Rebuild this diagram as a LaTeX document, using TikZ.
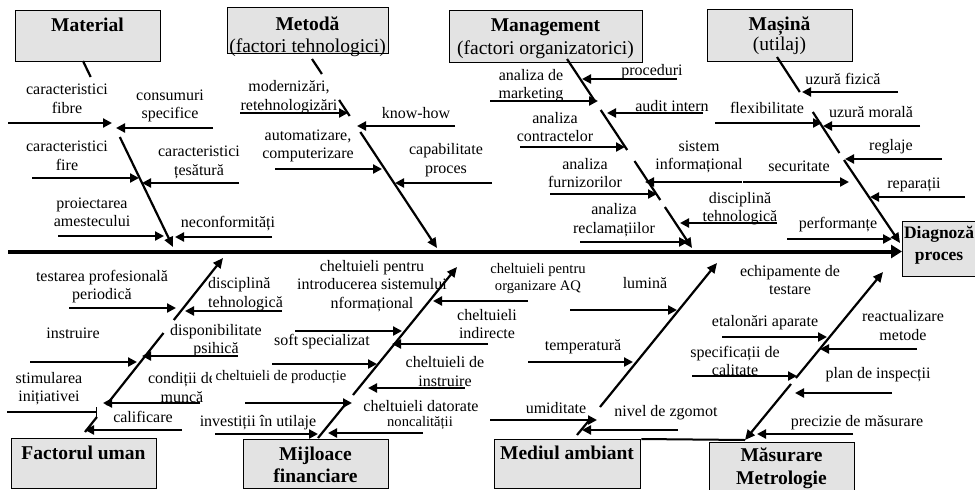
\documentclass[tikz,border=0pt]{standalone}
\usepackage{fontspec}
\setmainfont{Liberation Serif}
\usetikzlibrary{arrows.meta}

% font sizes (1pt in the picture = one unit of the coordinate grid)
\newcommand\lblfont{\fontsize{16}{18.5}\selectfont}
\newcommand\smlfont{\fontsize{14.6}{17}\selectfont}
\newcommand\ttlfont{\fontsize{19.5}{22.5}\selectfont}

\tikzset{
  cause/.style={line width=2.2pt, -{Triangle[length=9pt,width=9pt]}},
  bone/.style={line width=2.2pt},
  bonetip/.style={line width=2.2pt, -{Triangle[length=10pt,width=9pt]}},
  spine/.style={line width=4pt, -{Triangle[length=11pt,width=13pt]}},
  catbox/.style={draw, line width=1.4pt, fill=black!11, inner sep=0pt, anchor=north west},
  lbl/.style={font=\lblfont, align=center, inner sep=0pt},
  sml/.style={font=\smlfont, align=center, inner sep=0pt},
  ttl/.style={font=\ttlfont, align=center, inner sep=0pt},
}

% horizontal cause arrow: from x=#1 to x=#2 at height #3
\newcommand\causearrow[3]{\draw[cause] (#1,#3) -- (#2,#3);}

\begin{document}
\begin{tikzpicture}[x=1pt, y=-1pt]
\useasboundingbox (0,0) rectangle (975,490);
\clip (0,0) rectangle (975,490);
\fill[white] (0,0) rectangle (975,490);

% ---------- category boxes ----------
\node[catbox, minimum width=145pt, minimum height=51pt] (material)   at (15,10)  {};
\node[catbox, minimum width=161pt, minimum height=46pt] (metoda)     at (227,7)  {};
\node[catbox, minimum width=193pt, minimum height=52pt] (management) at (449,10) {};
\node[catbox, minimum width=145pt, minimum height=52pt] (masina)     at (707,9)  {};
\node[catbox, minimum width=90pt,  minimum height=55pt] (diag)       at (902,221) {};
\node[catbox, minimum width=145pt, minimum height=50pt] (uman)       at (11,438) {};
\node[catbox, minimum width=145pt, minimum height=49pt] (mijloace)   at (243,439) {};
\node[catbox, minimum width=146pt, minimum height=49pt] (mediul)     at (494,439) {};
\node[catbox, minimum width=145pt, minimum height=50pt] (masurare)   at (709,442) {};

\node[ttl] (tmaterial)   at (87.5,25)   {\bfseries Material};
\node[ttl] (tmetoda)     at (307.5,36.5) {\bfseries Metodă\\(factori tehnologici)};
\node[ttl] (tmanagement) at (545.5,38.5) {\bfseries Management\\(factori organizatorici)};
\node[ttl, font=\fontsize{19.5}{20}\selectfont] (tmasina) at (779.5,36) {\bfseries Mașină\\(utilaj)};
\node[ttl, font=\fontsize{17.5}{21.5}\selectfont\bfseries] (tdiag) at (939,245) {Diagnoză\\proces};
\node[ttl] (tuman)       at (83.5,453)  {\bfseries Factorul uman};
\node[ttl, font=\ttlfont\bfseries] (tmijloace) at (315.5,465) {Mijloace\\financiare};
\node[ttl] (tmediul)     at (567,453)   {\bfseries Mediul ambiant};
\node[ttl, font=\ttlfont\bfseries] (tmasurare) at (781.5,468.5) {Măsurare\\Metrologie};

% ---------- labels: Material ----------
\node[lbl] (m1) at (67,99)    {caracteristici\\fibre};
\node[lbl] (m2) at (170,106)  {consumuri\\specifice};
\node[lbl] (m3) at (67,156)   {caracteristici\\fire};
\node[lbl] (m4) at (199,162.5) {caracteristici\\țesătură};
\node[lbl] (m5) at (92,212.5) {proiectarea\\amestecului};
\node[lbl] (m6) at (228,224)  {neconformități};

% ---------- labels: Metodă ----------
\node[lbl] (t1) at (289,97)  {modernizări,\\retehnologizări};
\node[lbl] (t2) at (416,113) {know-how};
\node[lbl] (t3) at (308,146) {automatizare,\\computerizare};
\node[lbl] (t4) at (446,160) {capabilitate\\proces};

% ---------- labels: Management ----------
\node[lbl] (g1) at (652,72)    {proceduri};
\node[lbl] (g2) at (531,85.5)  {analiza de\\marketing};
\node[lbl] (g3) at (672,106)   {audit intern};
\node[lbl] (g4) at (555,127)   {analiza\\contractelor};
\node[lbl] (g5) at (699,157)   {sistem\\informațional};
\node[lbl] (g6) at (585,173)   {analiza\\furnizorilor};
\node[lbl] (g7) at (740,208.5) {disciplină\\tehnologică};
\node[lbl] (g8) at (614,220)   {analiza\\reclamațiilor};

% ---------- labels: Mașină ----------
\node[lbl] (s1) at (843,79)  {uzură fizică};
\node[lbl] (s2) at (767,108) {flexibilitate};
\node[lbl] (s3) at (871,112) {uzură morală};
\node[lbl] (s4) at (891,147) {reglaje};
\node[lbl] (s5) at (799,166) {securitate};
\node[lbl] (s6) at (914,185) {reparații};
\node[lbl] (s7) at (838,225) {performanțe};

% ---------- labels: Factorul uman ----------
\node[lbl] (u1) at (102,286.5) {testarea profesională\\periodică};
\node[lbl, align=left, anchor=west] (u2) at (208,294) {disciplină\\tehnologică};
\node[lbl] (u3) at (73,333)    {instruire};
\node[lbl] (u4) at (216,340.5) {disponibilitate\\psihică};
\node[lbl] (u5) at (49,388.5)  {stimularea\\inițiativei};
\node[lbl] (u6) at (182,387.5) {condiții de\\muncă};
\node[lbl] (u7) at (143,417)   {calificare};

% ---------- labels: Mijloace financiare ----------
\node[lbl] (f1) at (372,286)   {cheltuieli pentru\\introducerea sistemului\\nformațional};
\node[lbl] (f2) at (322,342)   {soft specializat};
\node[sml, fill=white, inner xsep=4pt, inner ysep=1pt] (f3) at (281,377) {cheltuieli de producție};
\node[lbl] (f4) at (258,423)   {investiții în utilaje};
\node[lbl] (f5) at (487,324)   {cheltuieli\\indirecte};
\node[lbl] (f6) at (445,371.5) {cheltuieli de\\instruire};
\node[lbl] (f7) at (421,406)   {cheltuieli datorate};
\node[sml] (f8) at (420,423)   {noncalității};

% ---------- labels: Mediul ambiant ----------
\node[sml] (e1) at (538,278.5) {cheltuieli pentru\\organizare AQ};
\node[lbl] (e2) at (645,283)   {lumină};
\node[lbl] (e3) at (583,347)   {temperatură};
\node[lbl] (e4) at (556,408)   {umiditate};
\node[lbl] (e5) at (666,413)   {nivel de zgomot};

% ---------- labels: Măsurare ----------
\node[lbl] (r1) at (790,280)   {echipamente de\\testare};
\node[lbl] (r2) at (765,323)   {etalonări aparate};
\node[lbl] (r3) at (903,325.5) {reactualizare\\metode};
\node[lbl] (r4) at (735,361)   {specificații de\\calitate};
\node[lbl] (r5) at (878,375)   {plan de inspecții};
\node[lbl] (r6) at (857,423)   {precizie de măsurare};

% ---------- main spine ----------
\coordinate (tail) at (8,251.5);
\draw[spine] (tail) -- (tail -| diag.west);

% ---------- bones (upper) ----------
\draw[bone] (83,61) -- (90.7,77);
\draw[bonetip] (119.8,137) -- (173,247);

\draw[bone] (312,59) -- (321.9,74);
\draw[bone] (339.1,100) -- (349.7,116);
\draw[bonetip] (360.3,132) -- (437,248);

\draw[bone] (567,59) -- (594.8,101);
\draw[bone] (600.7,110) -- (627.2,150);
\draw[bone] (634.5,161) -- (660.3,200);
\draw[bonetip] (664.9,207) -- (692,248);

\draw[bone] (777,57) -- (799.8,92);
\draw[bone] (812.8,112) -- (839.4,153);
\draw[bonetip] (844,160) -- (900,243);

% ---------- bones (lower) ----------
\draw[bone] (85,432) -- (96.9,417);
\draw[bone] (106.4,405) -- (163.5,333);
\draw[bonetip] (173.8,320) -- (223,258);

\draw[bone] (318,438) -- (346.5,403);
\draw[bonetip] (353,395) -- (457,267);

\draw[bone] (577,435) -- (589.4,420);
\draw[bonetip] (600,407) -- (717,263);

\draw[bonetip] (791,384) -- (745,440);
\draw[bonetip] (795.9,378) -- (883,272);
\draw[line width=2pt] (mediul.north east) -- (745,440);

% ---------- cause arrows: Material ----------
\causearrow{8}{112}{123}
\causearrow{213}{116}{128}
\causearrow{32}{139}{178}
\causearrow{239}{142}{183}
\causearrow{58}{164}{236}
\causearrow{272}{175}{237}

% ---------- cause arrows: Metodă ----------
\causearrow{240}{348}{113}
\causearrow{455}{357}{126}
\causearrow{275}{382}{169}
\causearrow{492}{395}{183}

% ---------- cause arrows: Management ----------
\causearrow{677}{582}{79}
\causearrow{490}{598}{101}
\causearrow{703}{607}{113}
\causearrow{520}{625}{147}
\causearrow{742}{645}{182}
\causearrow{550}{657}{194}
\causearrow{777}{680}{223}
\causearrow{580}{688}{242}

% ---------- cause arrows: Mașină ----------
\causearrow{898}{802}{92}
\causearrow{715}{822}{123}
\causearrow{920}{823}{126}
\causearrow{942}{845}{159}
\causearrow{743}{849}{182}
\causearrow{965}{870}{197}
\causearrow{787}{892}{239}

% ---------- cause arrows: Factorul uman ----------
\causearrow{69}{176}{308}
\causearrow{282}{185}{311}
\causearrow{30}{137}{362}
\causearrow{238}{142}{356}
\draw[line width=2.2pt, -{Bar[width=10pt,line width=1.5pt]}] (7,412) -- (97,412);
\causearrow{200}{103}{403}
\causearrow{182}{85}{430}

% ---------- cause arrows: Mijloace financiare ----------
\causearrow{295}{402}{331}
\causearrow{272}{377}{364}
\causearrow{245}{352}{403}
\causearrow{215}{318}{434}
\causearrow{528}{433}{301}
\causearrow{488}{392}{344}
\causearrow{465}{368}{388}
\causearrow{423}{328}{433}

% ---------- cause arrows: Mediul ambiant ----------
\causearrow{570}{677}{310}
\causearrow{528}{633}{362}
\causearrow{490}{597}{420}
\causearrow{678}{582}{430}

% ---------- cause arrows: Măsurare ----------
\causearrow{722}{827}{337}
\causearrow{917}{820}{349}
\causearrow{692}{797}{376}
\causearrow{892}{795}{393}
\causearrow{853}{757}{434}
\end{tikzpicture}
\end{document}
